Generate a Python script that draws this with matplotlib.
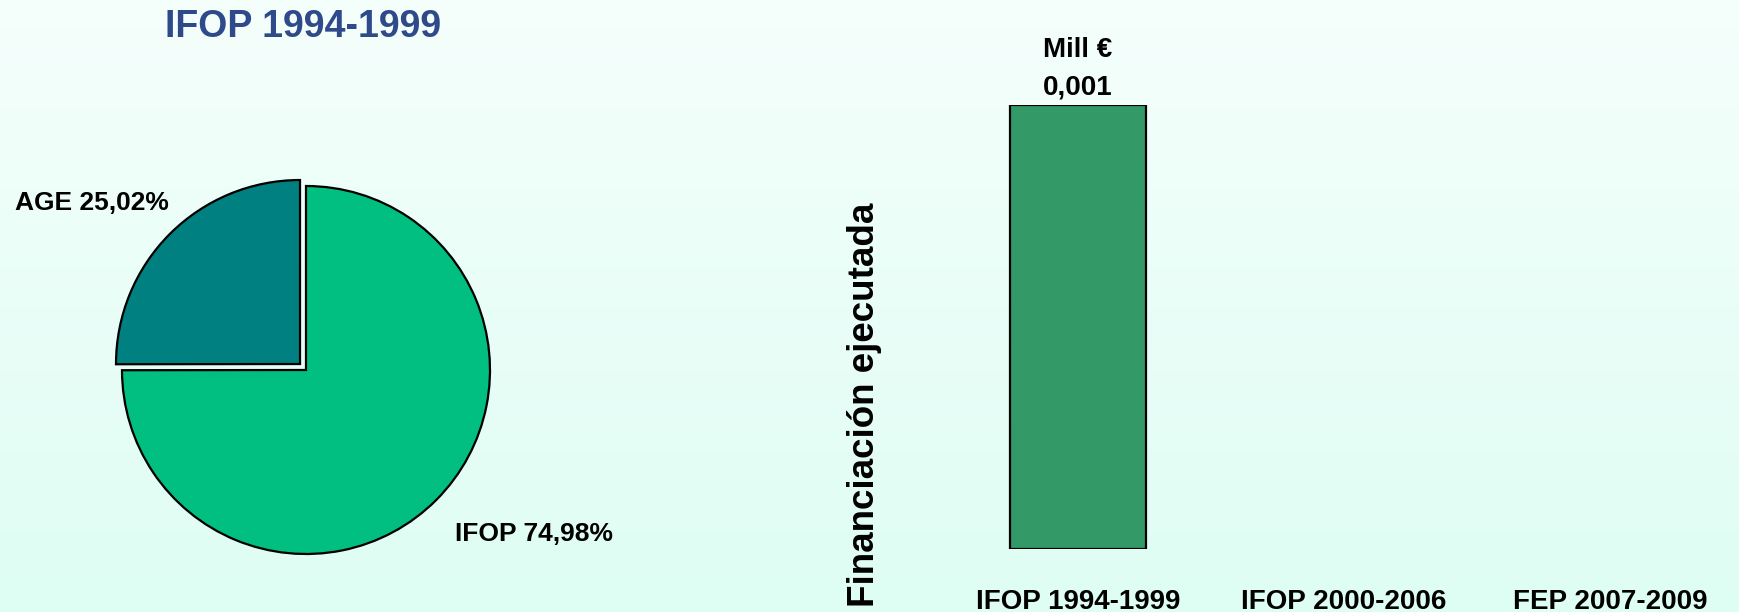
import numpy as np
from matplotlib import pyplot as plt

# pie data
pie_labels = ['AGE', 'IFOP']
pie_shares = [25.02, 74.98]
pie_colors = ['#008080', '#00BF80']

# bar data (Mill EUR)
periods = ['IFOP 1994-1999', 'IFOP 2000-2006', 'FEP 2007-2009']
funding = [0.001, 0.0, 0.0]

plt.rcParams['font.family'] = ['Liberation Sans', 'DejaVu Sans']
plt.rcParams['font.weight'] = 'bold'

W, H = 1740, 612
fig = plt.figure(figsize=(W / 100, H / 100), dpi=100)

# light vertical gradient background
bg = fig.add_axes([0, 0, 1, 1], zorder=-10)
grad = np.linspace(0, 1, 256).reshape(-1, 1)
top = np.array([245, 255, 252]) / 255
bot = np.array([222, 253, 243]) / 255
img = top + (bot - top) * grad[:, :, None]
bg.imshow(img, aspect='auto', extent=[0, 1, 0, 1])
bg.axis('off')

def px_axes(left, top_, width, height):
    # helper: axes position from pixel box (y measured from top)
    return fig.add_axes([left / W, 1 - (top_ + height) / H, width / W, height / H])

# ---- pie ----
R = 184
cx, cy = 306, 370
ax1 = px_axes(cx - 200, cy - 200, 400, 400)
ax1.pie(pie_shares, colors=pie_colors, startangle=90, counterclock=True,
        explode=[0.046, 0], radius=1, center=(0, 0),
        wedgeprops=dict(edgecolor='black', linewidth=1.6))
# pie() resets the limits, so set them afterwards
ax1.set_xlim(-200 / R, 200 / R)
ax1.set_ylim(-200 / R, 200 / R)
ax1.set_aspect('equal')
ax1.axis('off')
fmt = lambda v: f'{v:.2f}'.replace('.', ',') + '%'
ax1.text(-1.58, 0.905, f'{pie_labels[0]} {fmt(pie_shares[0])}', ha='left', va='center',
         fontsize=19, clip_on=False)
ax1.text(0.81, -0.89, f'{pie_labels[1]} {fmt(pie_shares[1])}', ha='left', va='center',
         fontsize=19, clip_on=False)
fig.text(303 / W, 1 - 27 / H, 'IFOP 1994-1999', ha='center', va='center',
         fontsize=27, color='#2E4A8A')

# ---- bars ----
step = 266
ax2 = px_axes(1078 - step / 2, 105, 3 * step, 549 - 105)
x = np.arange(len(periods))
lw = [1.6 if v > 0 else 0 for v in funding]
bars = ax2.bar(x, funding, width=0.51, color='#339966', edgecolor='black', linewidth=lw)
ax2.set_xlim(-0.5, 2.5)
ax2.set_ylim(0, max(funding))
ax2.set_xticks(x)
ax2.set_xticklabels(periods, fontsize=20)
ax2.tick_params(axis='x', length=0, pad=29)
ax2.set_yticks([])
for s in ax2.spines.values():
    s.set_visible(False)
ax2.patch.set_alpha(0)
vals = [f'{v:.3f}'.replace('.', ',') if v > 0 else '' for v in funding]
ax2.bar_label(bars, labels=vals, padding=3, fontsize=20)
ax2.annotate('Mill €', xy=(x[0], funding[0]), xytext=(0, 55), textcoords='offset pixels',
             ha='center', va='center', fontsize=20, annotation_clip=False)
fig.text(865 / W, 1 - 405 / H, 'Financiación ejecutada', rotation=90,
         ha='center', va='center', fontsize=26.5)

fig.savefig('out.png', dpi=100)
